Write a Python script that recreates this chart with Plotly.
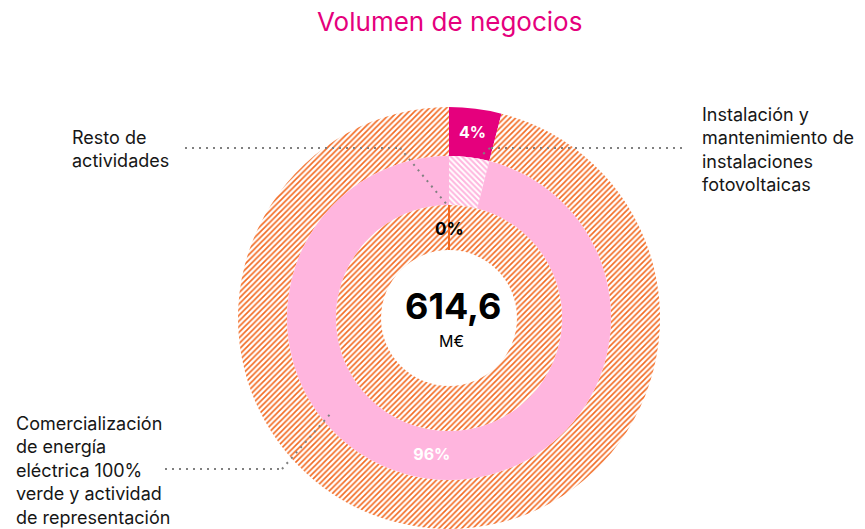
import math
import plotly.graph_objects as go

# Business volume breakdown (percent of total)
categories = [
    "Instalación y mantenimiento de instalaciones fotovoltaicas",
    "Comercialización de energía eléctrica 100% verde y actividad de representación",
    "Resto de actividades",
]
shares = [4, 96, 0]
total_value = "614,6"
total_unit = "M€"
title_text = "Volumen de negocios"

W, H = 865, 529
CX, CY = 449, 318            # ring centre, pixels from top-left
RADII = [211, 162, 113, 68]  # outer, mid, inner, hole edges

MAGENTA = "#e5007d"
PINK = "#ffb5de"
ORANGE = "#f26a22"
DOTS = "#808080"
FONT = "Inter"
HATCH_SIZE = 4
HATCH_SOLID = 0.4


def px(x):
    return x / W


def py(y):
    return 1 - y / H


def domain_for(r):
    return dict(x=[(CX - r) / W, (CX + r) / W],
                y=[(H - CY - r) / H, (H - CY + r) / H])


fig = go.Figure()

inst, com, rest = shares

# Outer ring: installation share against the remainder
fig.add_trace(go.Pie(
    values=[inst, 100 - inst],
    labels=[categories[0], "otros"],
    text=[f"{inst}%", ""],
    textinfo="text",
    textposition="inside",
    insidetextorientation="horizontal",
    textfont=dict(family=FONT, size=16, color="white", weight="bold"),
    marker=dict(colors=[MAGENTA, "white"],
                pattern=dict(shape=["", "/"], fgcolor=[MAGENTA, ORANGE],
                             bgcolor=[MAGENTA, "white"], size=HATCH_SIZE,
                             solidity=HATCH_SOLID),
                line=dict(width=0)),
    hole=RADII[1] / RADII[0],
    domain=domain_for(RADII[0]),
    sort=False, direction="clockwise", rotation=0,
    hoverinfo="skip", showlegend=False,
))

# Middle ring: energy commercialisation share
fig.add_trace(go.Pie(
    values=[100 - com, com],
    labels=["otros", categories[1]],
    text=["", f"{com}%"],
    textinfo="text",
    textposition="inside",
    insidetextorientation="horizontal",
    textfont=dict(family=FONT, size=16, color="white", weight="bold"),
    marker=dict(colors=["white", PINK],
                pattern=dict(shape=["\\", ""], fgcolor=[PINK, PINK],
                             bgcolor=["white", PINK], size=HATCH_SIZE,
                             solidity=0.5),
                line=dict(width=0)),
    hole=RADII[2] / RADII[1],
    domain=domain_for(RADII[1]),
    sort=False, direction="clockwise", rotation=0,
    hoverinfo="skip", showlegend=False,
))

# Inner ring: remaining activities (0 %)
fig.add_trace(go.Pie(
    values=[rest, 100 - rest],
    labels=[categories[2], "otros"],
    textinfo="none",
    marker=dict(colors=[ORANGE, "white"],
                pattern=dict(shape=["", "/"], fgcolor=[ORANGE, ORANGE],
                             bgcolor=[ORANGE, "white"], size=HATCH_SIZE,
                             solidity=HATCH_SOLID),
                line=dict(width=0)),
    hole=RADII[3] / RADII[2],
    domain=domain_for(RADII[2]),
    sort=False, direction="clockwise", rotation=0,
    hoverinfo="skip", showlegend=False,
))

# A zero-width slice is drawn as a radial stroke at its start angle
ang = math.radians(360 * 0 / 100)  # cumulative share before "Resto"
sx, sy = math.sin(ang), -math.cos(ang)
shapes = [dict(type="line", xref="paper", yref="paper",
               x0=px(CX + RADII[3] * sx), y0=py(CY + RADII[3] * sy),
               x1=px(CX + RADII[2] * sx), y1=py(CY + RADII[2] * sy),
               line=dict(color=ORANGE, width=2), layer="above")]

# Dotted leader lines
leaders = [
    [(185, 148), (400, 148), (448, 206)],
    [(682, 148), (490, 148), (482, 155)],
    [(165, 469), (282, 469), (332, 412)],
]
for pts in leaders:
    for (x0, y0), (x1, y1) in zip(pts[:-1], pts[1:]):
        shapes.append(dict(type="line", xref="paper", yref="paper",
                           x0=px(x0), y0=py(y0), x1=px(x1), y1=py(y1),
                           line=dict(color=DOTS, width=2, dash="2px,5px"),
                           layer="above"))


def note(text, x, y, size, color="#161616", bold=False, xanchor="center",
         align="center"):
    return dict(text=text, x=px(x), y=py(y), xref="paper", yref="paper",
                xanchor=xanchor, yanchor="middle", align=align,
                showarrow=False,
                font=dict(family=FONT, size=size, color=color,
                          weight="bold" if bold else "normal"))


annotations = [
    note(title_text, 449, 21, 26, color=MAGENTA),
    note(total_value, CX + 4, 306, 36, color="black", bold=True),
    note(total_unit, CX + 3, 341, 16, color="black"),
    note(f"{rest}%", CX + 1, 229, 17, color="black", bold=True),
    note("Resto de<br>actividades", 70, 148.5, 18,
         xanchor="left", align="left"),
    note("Instalación y<br>mantenimiento de<br>instalaciones<br>fotovoltaicas",
         700, 149, 18, xanchor="left", align="left"),
    note("Comercialización<br>de energía<br>eléctrica 100%<br>verde y actividad<br>de representación",
         14, 470, 18, xanchor="left", align="left"),
]

fig.update_layout(
    width=W, height=H, autosize=False,
    margin=dict(l=0, r=0, t=0, b=0),
    paper_bgcolor="white", plot_bgcolor="white",
    shapes=shapes, annotations=annotations,
    showlegend=False,
)

fig.write_html("out.html")
